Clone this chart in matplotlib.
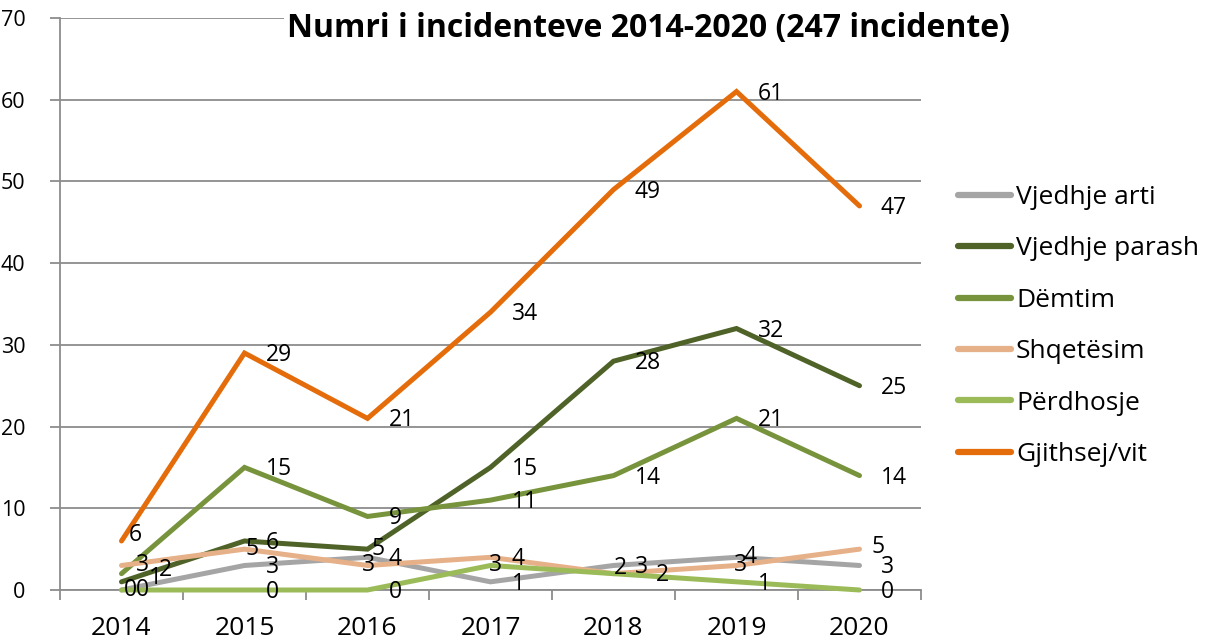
import numpy as np
import matplotlib
matplotlib.use("Agg")
from matplotlib import pyplot as plt

plt.rcParams['font.family'] = ['Open Sans', 'DejaVu Sans']

years = ["2014", "2015", "2016", "2017", "2018", "2019", "2020"]
series_names = ["Vjedhje arti", "Vjedhje parash", "Dëmtim", "Shqetësim",
                "Përdhosje", "Gjithsej/vit"]
vjedhje_arti = [0, 3, 4, 1, 3, 4, 3]
vjedhje_parash = [1, 6, 5, 15, 28, 32, 25]
demtim = [2, 15, 9, 11, 14, 21, 14]
shqetesim = [3, 5, 3, 4, 2, 3, 5]
perdhosje = [0, 0, 0, 3, 2, 1, 0]
gjithsej = [6, 29, 21, 34, 49, 61, 47]
title = "Numri i incidenteve 2014-2020 (247 incidente)"

values = [vjedhje_arti, vjedhje_parash, demtim, shqetesim, perdhosje, gjithsej]
colors = ["#A5A5A5", "#4F6228", "#77933C", "#E6B088", "#9BBB59", "#E46C0A"]

# label nudges in pixels (dx, dy) where Excel moved labels to avoid overlap
default_off = (21, -2)
nudges = {
    (5, 0): (7, 6), (3, 0): (14, 0), (2, 0): (37, 4), (1, 0): (27, 4),
    (0, 0): (2, 0), (4, 0): (14, 0),
    (3, 1): (1, 0),
    (1, 2): (4, 0), (3, 2): (-6, 0),
    (4, 3): (-2, 0),
    (4, 4): (0, 6), (3, 4): (42, -1),
    (0, 5): (7, 0), (3, 5): (-3, 0),
    (3, 6): (12, 2),
}

fig = plt.figure(figsize=(12.12, 6.44), dpi=100)
ax = fig.add_axes([60 / 1212, 54 / 644, 861 / 1212, 572 / 644])

x = np.arange(len(years))
for i, (name, vals, col) in enumerate(zip(series_names, values, colors)):
    ax.plot(x, vals, color=col, lw=3.6, solid_capstyle='round',
            solid_joinstyle='miter', label=name, zorder=3 + i, clip_on=False)
    for j, v in enumerate(vals):
        dx, dy = nudges.get((i, j), default_off)
        ax.annotate(str(v), (x[j], v), xytext=(dx, dy), textcoords='offset pixels',
                    ha='left', va='center', fontsize=16.5, color='black', zorder=20,
                    annotation_clip=False)

ax.set_xlim(-0.5, len(years) - 0.5)
ax.set_ylim(0, 70)
ax.set_yticks(np.arange(0, 71, 10))
ax.yaxis.grid(True, color='#8C8C8C', lw=1.3)
ax.set_axisbelow(True)
for s in ['top', 'right']:
    ax.spines[s].set_visible(False)
for s in ['left', 'bottom']:
    ax.spines[s].set_color('#8C8C8C')
    ax.spines[s].set_linewidth(1.3)

ax.set_xticks(x)
ax.set_xticklabels(years, fontsize=19)
ax.set_xticks(np.arange(-0.5, len(years)), minor=True)
ax.tick_params(axis='x', which='major', length=0, pad=19)
ax.tick_params(axis='x', which='minor', length=7, width=1.3, color='#8C8C8C')
ax.tick_params(axis='y', length=7, width=1.3, color='#8C8C8C', labelsize=15.5, pad=18)

fig.text(648 / 1212, 1 - 28 / 644, title, ha='center', va='center',
         fontsize=23, fontweight='bold',
         bbox=dict(facecolor='white', edgecolor='none', pad=2), zorder=30)

leg = fig.legend(loc='upper left', bbox_to_anchor=(958 / 1212, 1 - 185 / 644),
                 frameon=False, fontsize=19, handlelength=2.0, handletextpad=0.2,
                 labelspacing=1.0, borderpad=0, borderaxespad=0)
for h in leg.get_lines():
    h.set_linewidth(4.5)
    h.set_solid_capstyle('round')

fig.savefig("out.png", dpi=100)
